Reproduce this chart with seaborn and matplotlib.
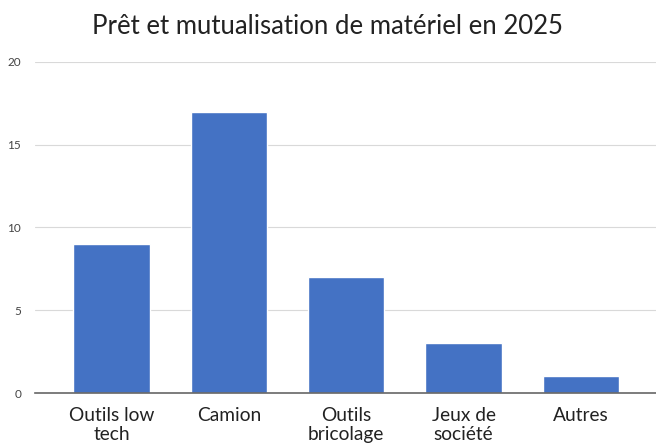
import matplotlib
matplotlib.use("Agg")
import matplotlib.pyplot as plt
import seaborn as sns
import pandas as pd

categories = ["Outils low\ntech", "Camion", "Outils\nbricolage", "Jeux de\nsociété", "Autres"]
values = [9, 17, 7, 3, 1]
yticks = [0, 5, 10, 15, 20]

sns.set_theme(style="white")
plt.rcParams['font.family'] = ['Lato', 'DejaVu Sans']

df = pd.DataFrame({"cat": categories, "val": values})

fig = plt.figure(figsize=(6.56, 4.44), dpi=100)
ax = fig.add_axes([35/656, 1 - 393/444, (656-35)/656, (393-62)/444])
sns.barplot(data=df, x="cat", y="val", color="#4472C4", saturation=1, width=0.65, ax=ax)

ax.set_xlim(-0.652, 4.64)
ax.set_ylim(0, 20)
ax.set_yticks(yticks)
ax.set_yticklabels([str(t) for t in yticks], fontsize=8.5, color="#444444")
ax.tick_params(axis='x', labelsize=13.8, colors="#222222", length=0, pad=10)
ax.tick_params(axis='y', length=0, pad=10)
for lab in ax.get_xticklabels():
    lab.set_linespacing(1.15)
ax.grid(axis='y', color="#d9d9d9", linewidth=0.8)
ax.set_axisbelow(True)
for s in ["top", "right", "left"]:
    ax.spines[s].set_visible(False)
ax.spines["bottom"].set_color("#666666")
ax.spines["bottom"].set_linewidth(1.2)
ax.set_xlabel("")
ax.set_ylabel("")
fig.text(0.5, 1 - 26/444, "Prêt et mutualisation de matériel en 2025", ha="center", va="center",
         fontsize=18.5, color="#222222")
fig.savefig("out.png", dpi=100)
